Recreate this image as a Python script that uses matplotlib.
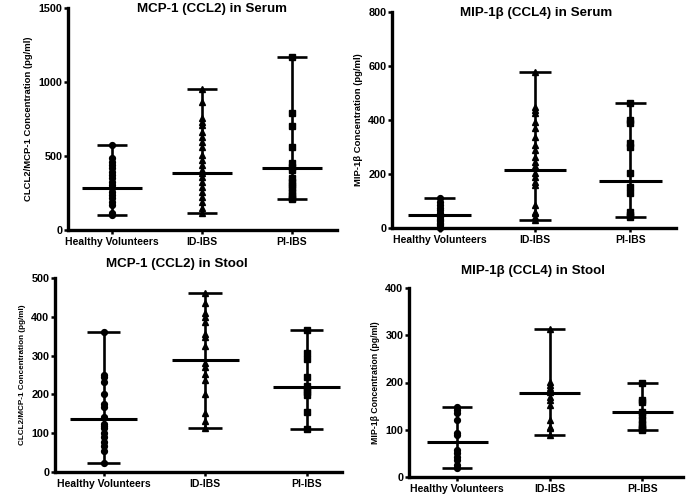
import numpy as np
import matplotlib
matplotlib.use('Agg')
import matplotlib.pyplot as plt

plt.rcParams['font.family'] = ['Liberation Sans', 'DejaVu Sans']
plt.rcParams['font.weight'] = 'bold'

groups = ['Healthy Volunteers', 'ID-IBS', 'PI-IBS']

# MCP-1 (CCL2) in serum
serum_mcp_hv = [574, 484, 462, 439, 417, 394, 372, 349, 327, 304, 282, 259, 236, 214, 191, 169, 113, 101]
serum_mcp_id = [951, 867, 755, 732, 709, 664, 630, 597, 563, 507, 473, 439, 405, 387, 360, 327, 293,
                259, 225, 191, 146, 113]
serum_mcp_pi = [1167, 793, 703, 559, 451, 428, 405, 349, 327, 304, 282, 259, 236, 214, 207]
serum_mcp_med = [282, 387, 417]

# MIP-1b (CCL4) in serum
serum_mip_hv = [112, 95, 85, 75, 65, 55, 50, 45, 40, 35, 30, 25, 20, 15, 10, 5, 0]
serum_mip_id = [579, 449, 437, 425, 394, 369, 338, 307, 289, 264, 246, 230, 202, 190, 172, 159,
                85, 60, 54, 42, 28]
serum_mip_pi = [464, 400, 388, 314, 299, 202, 153, 131, 60, 48, 42]
serum_mip_med = [47, 215, 174]

# MCP-1 (CCL2) in stool
stool_mcp_hv = [360, 250, 244, 231, 201, 174, 168, 141, 124, 119, 113, 100, 89, 78, 68, 54, 24]
stool_mcp_id = [461, 435, 411, 399, 387, 355, 349, 325, 282, 271, 253, 237, 201, 153, 132, 113]
stool_mcp_pi = [366, 307, 291, 246, 222, 214, 207, 198, 155, 111]
stool_mcp_med = [136, 288, 220]

# MIP-1b (CCL4) in stool
stool_mip_hv = [149, 142, 135, 120, 93, 89, 57, 51, 42, 36, 25, 19]
stool_mip_id = [313, 201, 195, 188, 180, 170, 163, 152, 120, 106, 103, 88]
stool_mip_pi = [199, 163, 159, 138, 131, 120, 113, 106, 101, 99]
stool_mip_med = [74, 178, 138]

W, H = 686, 497
fig = plt.figure(figsize=(W / 100, H / 100), dpi=100)


def px_axes(left, top, right, bottom):
    return fig.add_axes([left / W, 1 - bottom / H, (right - left) / W, (bottom - top) / H])


def panel(ax, data, med, ylim, yticks, xlim, ylabel, ylab_size):
    markers = ['o', '^', 's']
    for i, vals in enumerate(data):
        ax.plot([i] * len(vals), vals, linestyle='none', marker=markers[i],
                color='black', markersize=4.2, clip_on=False, zorder=3)
        lo, hi = min(vals), max(vals)
        ax.vlines(i, lo, hi, color='black', lw=1.9, zorder=2)
        ax.hlines([lo, hi], i - 0.165, i + 0.165, color='black', lw=1.9, zorder=2)
        ax.hlines(med[i], i - 0.33, i + 0.33, color='black', lw=2.2, zorder=4)
    ax.set_xlim(*xlim)
    ax.set_ylim(*ylim)
    ax.set_yticks(yticks)
    ax.set_xticks(range(3))
    ax.set_xticklabels(groups, fontsize=7.5, fontweight='bold')
    ax.tick_params(axis='y', labelsize=7.8, width=1.8, length=3, pad=1)
    ax.tick_params(axis='x', width=1.8, length=3, pad=2)
    for s in ['top', 'right']:
        ax.spines[s].set_visible(False)
    for s in ['left', 'bottom']:
        ax.spines[s].set_linewidth(2.4)
    ax.set_ylabel(ylabel, fontsize=ylab_size, fontweight='bold', labelpad=4)
    ax.patch.set_alpha(0)


ax1 = px_axes(68, 8, 337, 230)
panel(ax1, [serum_mcp_hv, serum_mcp_id, serum_mcp_pi], serum_mcp_med, (0, 1500),
      [0, 500, 1000, 1500], (-0.49, 2.5), 'CLCL2/MCP-1 Concentration (pg/ml)', 6.8)
fig.text(212 / W, 1 - 9 / H, 'MCP-1 (CCL2) in Serum', ha='center', va='center',
         fontsize=9.6, fontweight='bold')

ax2 = px_axes(392, 12, 676, 228)
panel(ax2, [serum_mip_hv, serum_mip_id, serum_mip_pi], serum_mip_med, (0, 800),
      [0, 200, 400, 600, 800], (-0.5, 2.48), 'MIP-1β Concentration (pg/ml)', 6.8)
fig.text(536 / W, 1 - 13 / H, 'MIP-1β (CCL4) in Serum', ha='center', va='center',
         fontsize=9.6, fontweight='bold')

ax3 = px_axes(55, 278, 342, 472)
panel(ax3, [stool_mcp_hv, stool_mcp_id, stool_mcp_pi], stool_mcp_med, (0, 500),
      [0, 100, 200, 300, 400, 500], (-0.48, 2.35), 'CLCL2/MCP-1 Concentration (pg/ml)', 5.9)
fig.text(177 / W, 1 - 264 / H, 'MCP-1 (CCL2) in Stool', ha='center', va='center',
         fontsize=9.6, fontweight='bold')

ax4 = px_axes(409, 288, 683, 477)
panel(ax4, [stool_mip_hv, stool_mip_id, stool_mip_pi], stool_mip_med, (0, 400),
      [0, 100, 200, 300, 400], (-0.52, 2.44), 'MIP-1β Concentration (pg/ml)', 6.3)
fig.text(533 / W, 1 - 271 / H, 'MIP-1β (CCL4) in Stool', ha='center', va='center',
         fontsize=9.6, fontweight='bold')

fig.savefig('out.png', dpi=100)
